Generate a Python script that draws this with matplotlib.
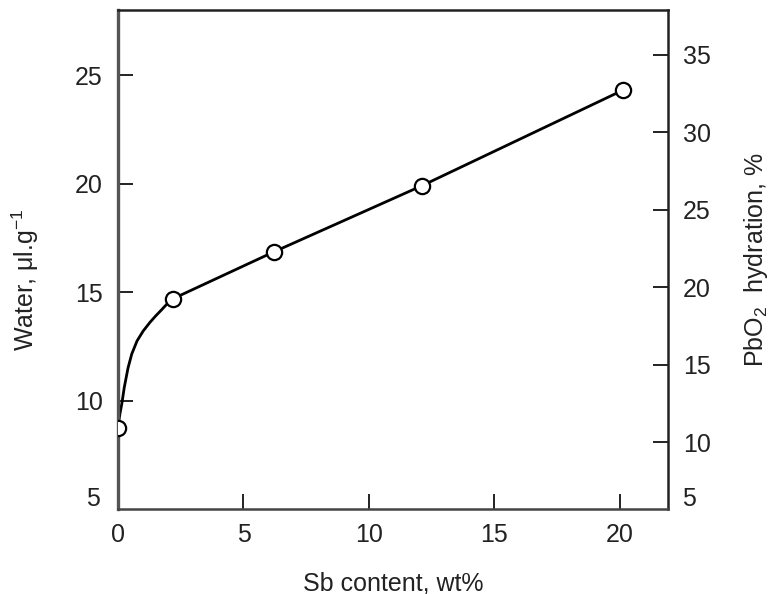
import matplotlib
matplotlib.use('Agg')
import matplotlib.pyplot as plt

plt.rcParams['font.family'] = ['Liberation Sans', 'DejaVu Sans']
plt.rcParams['mathtext.fontset'] = 'custom'
plt.rcParams['mathtext.rm'] = 'Liberation Sans'
plt.rcParams['mathtext.it'] = 'Liberation Sans:italic'

# measured points
sb_content = [0.0, 2.2, 6.2, 12.1, 20.1]
water = [8.75, 14.7, 16.85, 19.9, 24.3]

# fitted curve
curve_x = [0.0, 0.04, 0.08, 0.16, 0.25, 0.40, 0.55, 0.76, 1.0, 1.27,
           1.5, 1.75, 1.95, 2.2, 6.2, 12.1, 20.1]
curve_y = [8.75, 9.1, 9.4, 9.9, 10.6, 11.5, 12.15, 12.75, 13.2, 13.6,
           13.9, 14.2, 14.45, 14.7, 16.85, 19.9, 24.3]

left_ticks = [10, 15, 20, 25]
right_ticks = [10, 15, 20, 25, 30, 35]
x_ticks = [0, 5, 10, 15, 20]

fig = plt.figure(figsize=(7.71, 5.94), dpi=100)
ax = fig.add_axes([0.153, 0.143, 0.713, 0.840])

ax.plot(curve_x, curve_y, color='black', lw=2.0, zorder=2)
ax.plot(sb_content, water, 'o', ms=11, mfc='white', mec='black', mew=1.6, zorder=3)

ax.set_xlim(0, 21.9)
ax.set_ylim(5, 28)
ax.set_xticks(x_ticks)
ax.set_yticks(left_ticks)

ax.tick_params(axis='both', direction='in', length=11, width=1.4,
               labelsize=18, pad=11, colors='#222222')
ax.tick_params(axis='x', pad=10)

for sp in ax.spines.values():
    sp.set_linewidth(1.8)
    sp.set_color('#222222')
ax.spines['left'].set_linewidth(2.4)
ax.spines['left'].set_color('#555555')
ax.spines['bottom'].set_color('#444444')

ax.set_xlabel('Sb content, wt%', fontsize=18, color='#222222')
ax.xaxis.set_label_coords(0.5, -0.125)
ax.set_ylabel(r'Water, $\mathregular{\mu}$l.g$^{\mathregular{-1}}$', fontsize=18, color='#222222')
ax.yaxis.set_label_coords(-0.14, 0.46)

ax.text(-0.033, 0.02, '5', transform=ax.transAxes, ha='right', va='center',
        fontsize=18, color='#222222')

ax2 = ax.twinx()
ax2.set_ylim(5.67, 37.9)
ax2.set_yticks(right_ticks)
ax2.tick_params(axis='y', direction='in', length=11, width=1.4,
                labelsize=18, pad=11, colors='#222222')
for sp in ax2.spines.values():
    sp.set_visible(False)
ax2.set_ylabel(r'PbO$_{\mathregular{2}}$  hydration, %', fontsize=18, color='#222222')
ax2.yaxis.set_label_coords(1.135, 0.5)
ax2.text(1.027, 0.02, '5', transform=ax.transAxes, ha='left', va='center',
         fontsize=18, color='#222222')

fig.savefig('out.png', dpi=100)
